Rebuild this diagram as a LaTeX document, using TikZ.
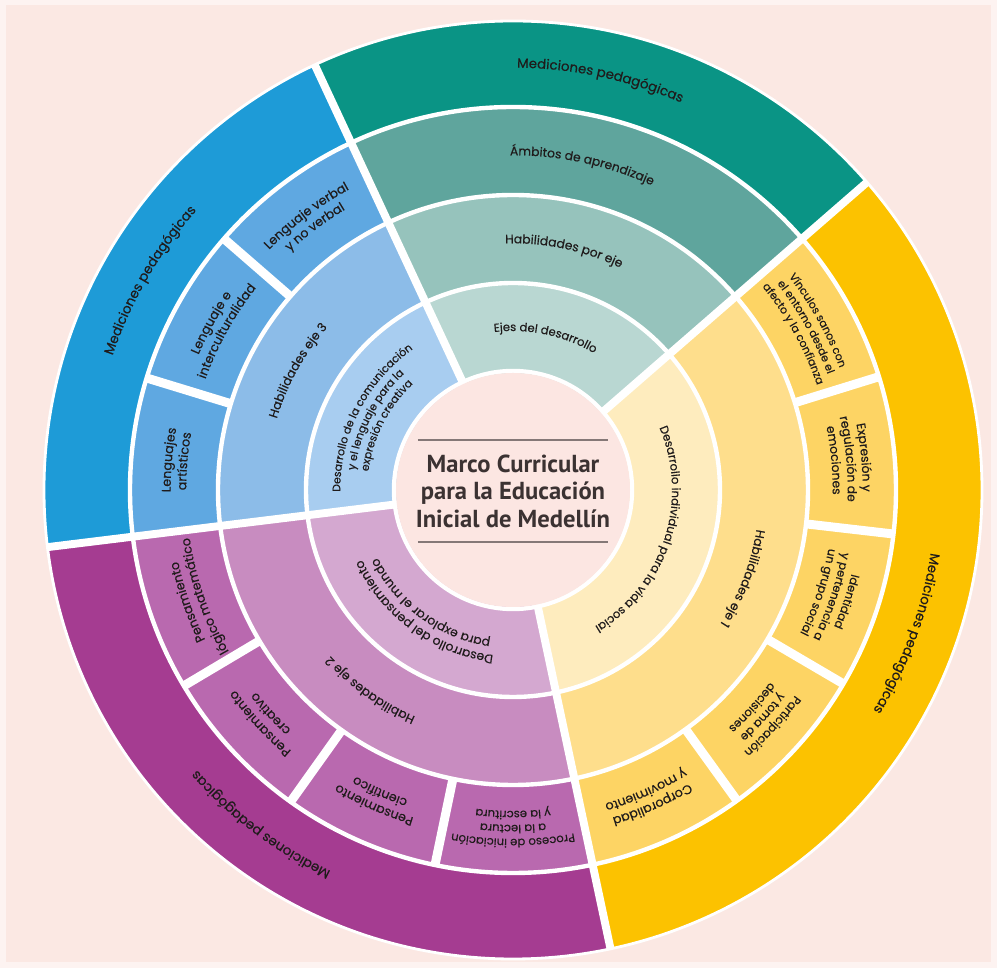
\documentclass[tikz,border=0pt]{standalone}
\usepackage{fontspec}
\setmainfont{Poppins}
\newfontfamily\lblfont{Poppins}[FakeBold=0.35]
\newfontfamily\titlefont{PT Sans}
\usepackage{xcolor}
\usetikzlibrary{decorations.text}
\definecolor{bgframe}{HTML}{FDF3F1}
\definecolor{bgpink}{HTML}{FBE8E3}
\definecolor{corepink}{HTML}{FCE6E2}
\definecolor{ink}{HTML}{1F1B1B}
\definecolor{titleink}{HTML}{3B3232}
\definecolor{rulegray}{HTML}{857877}
\definecolor{tealA}{HTML}{B9D7D2}
\definecolor{tealB}{HTML}{96C3BC}
\definecolor{tealC}{HTML}{5FA59D}
\definecolor{tealD}{HTML}{0A9485}
\definecolor{blueA}{HTML}{A8CDF0}
\definecolor{blueB}{HTML}{8CBCE8}
\definecolor{blueC}{HTML}{5FA8E1}
\definecolor{blueD}{HTML}{1E9BD7}
\definecolor{plumA}{HTML}{D4A8D0}
\definecolor{plumB}{HTML}{C88CC0}
\definecolor{plumC}{HTML}{B969AF}
\definecolor{plumD}{HTML}{A53C91}
\definecolor{goldA}{HTML}{FEECBE}
\definecolor{goldB}{HTML}{FEDE8C}
\definecolor{goldC}{HTML}{FDD464}
\definecolor{goldD}{HTML}{FCC200}
\newcommand\lblout{\lblfont\fontsize{7.6}{9}\selectfont}
\newcommand\lblmid{\lblfont\fontsize{7}{8}\selectfont}
\newcommand\lblsub{\lblfont\fontsize{7.2}{8}\selectfont}
\newcommand\lblone{\lblfont\fontsize{6.6}{8}\selectfont}
\newcommand\lbltiny{\lblfont\fontsize{6.2}{7}\selectfont}

\begin{document}
\begin{tikzpicture}[scale=0.02,
    ringgap/.style={draw=white, line width=2.5pt},
    sectorgap/.style={draw=white, line width=4.5pt},
    subgap/.style={draw=white, line width=5.1pt},
    lbl/.style 2 args={decorate, decoration={text along path, text align=center, text color=ink, text={|#1|#2}}},
    titletext/.style={font=\titlefont\bfseries\fontsize{14}{15.6}\selectfont, text=titleink, align=center},
]
    % Background
    \useasboundingbox (-513,-478) rectangle (484,490);
    \fill[bgframe] (-513,-478) rectangle (484,490);
    \fill[bgpink] (-507,-472) rectangle (478,485);

    % Teal sector
    \fill[tealD] (0,0) -- (41:469) arc[start angle=41, end angle=115, radius=469] -- cycle;
    \fill[tealC] (0,0) -- (41:383) arc[start angle=41, end angle=115, radius=383] -- cycle;
    \fill[tealB] (0,0) -- (41:295) arc[start angle=41, end angle=115, radius=295] -- cycle;
    \fill[tealA] (0,0) -- (41:207) arc[start angle=41, end angle=115, radius=207] -- cycle;

    % Blue sector
    \fill[blueD] (0,0) -- (115:469) arc[start angle=115, end angle=187, radius=469] -- cycle;
    \fill[blueC] (0,0) -- (115:383) arc[start angle=115, end angle=187, radius=383] -- cycle;
    \fill[blueB] (0,0) -- (115:295) arc[start angle=115, end angle=187, radius=295] -- cycle;
    \fill[blueA] (0,0) -- (115:207) arc[start angle=115, end angle=187, radius=207] -- cycle;

    % Plum sector
    \fill[plumD] (0,0) -- (187:469) arc[start angle=187, end angle=282, radius=469] -- cycle;
    \fill[plumC] (0,0) -- (187:383) arc[start angle=187, end angle=282, radius=383] -- cycle;
    \fill[plumB] (0,0) -- (187:295) arc[start angle=187, end angle=282, radius=295] -- cycle;
    \fill[plumA] (0,0) -- (187:207) arc[start angle=187, end angle=282, radius=207] -- cycle;

    % Gold sector
    \fill[goldD] (0,0) -- (-78:469) arc[start angle=-78, end angle=41, radius=469] -- cycle;
    \fill[goldC] (0,0) -- (-78:383) arc[start angle=-78, end angle=41, radius=383] -- cycle;
    \fill[goldB] (0,0) -- (-78:295) arc[start angle=-78, end angle=41, radius=295] -- cycle;
    \fill[goldA] (0,0) -- (-78:207) arc[start angle=-78, end angle=41, radius=207] -- cycle;

    % Gaps
    \draw[white, line width=1.6pt] (0,0) circle[radius=469];
    \draw[ringgap] (0,0) circle[radius=383];
    \draw[ringgap] (0,0) circle[radius=295];
    \draw[ringgap] (0,0) circle[radius=207];
    \draw[ringgap] (0,0) circle[radius=119];
    \draw[sectorgap] (0,0) -- (41:469);
    \draw[sectorgap] (0,0) -- (115:469);
    \draw[sectorgap] (0,0) -- (187:469);
    \draw[sectorgap] (0,0) -- (282:469);
    \draw[subgap] (163:295) -- (163:383);
    \draw[subgap] (139:295) -- (139:383);
    \draw[subgap] (210.75:295) -- (210.75:383);
    \draw[subgap] (234.5:295) -- (234.5:383);
    \draw[subgap] (258.25:295) -- (258.25:383);
    \draw[subgap] (17.2:295) -- (17.2:383);
    \draw[subgap] (-6.6:295) -- (-6.6:383);
    \draw[subgap] (-30.4:295) -- (-30.4:383);
    \draw[subgap] (-54.2:295) -- (-54.2:383);

    % Core
    \fill[corepink] (0,0) circle[radius=117];
    \draw[rulegray, line width=0.8pt] (-95,50) -- (95,50);
    \draw[rulegray, line width=0.8pt] (-95,-52) -- (95,-52);
    \node[titletext] (title) at (0,-1) {Marco Curricular\\para la Educación\\Inicial de Medellín};

    % Teal labels
    \path[lbl={\lblout}{Mediciones pedagógicas}] (118:422.3) arc[start angle=118, end angle=38, radius=422.3];
    \path[lbl={\lblmid}{Ámbitos de aprendizaje}] (118:334.7) arc[start angle=118, end angle=38, radius=334.7];
    \path[lbl={\lblmid}{Habilidades por eje}] (118:246.7) arc[start angle=118, end angle=38, radius=246.7];
    \path[lbl={\lblone}{Ejes del desarrollo}] (118:159) arc[start angle=118, end angle=38, radius=159];

    % Blue labels
    \path[lbl={\lblout}{Mediciones pedagógicas}] (190:422.3) arc[start angle=190, end angle=110, radius=422.3];
    \path[lbl={\lblmid}{Habilidades eje 3}] (191:246.7) arc[start angle=191, end angle=111, radius=246.7];
    \path[lbl={\lbltiny}{Desarrollo de la comunicación}] (198:172.7) arc[start angle=198, end angle=108, radius=172.7];
    \path[lbl={\lbltiny}{y el lenguaje para la}] (198:159.2) arc[start angle=198, end angle=108, radius=159.2];
    \path[lbl={\lbltiny}{expresión creativa}] (198:145.7) arc[start angle=198, end angle=108, radius=145.7];
    \path[lbl={\lblsub}{Lenguajes}] (195:342.3) arc[start angle=195, end angle=155, radius=342.3];
    \path[lbl={\lblsub}{artísticos}] (195:326.8) arc[start angle=195, end angle=155, radius=326.8];
    \path[lbl={\lblsub}{Lenguaje e}] (171:342.3) arc[start angle=171, end angle=131, radius=342.3];
    \path[lbl={\lblsub}{interculturalidad}] (171:326.8) arc[start angle=171, end angle=131, radius=326.8];
    \path[lbl={\lblsub}{Lenguaje verbal}] (147:342.3) arc[start angle=147, end angle=107, radius=342.3];
    \path[lbl={\lblsub}{y no verbal}] (147:326.8) arc[start angle=147, end angle=107, radius=326.8];

    % Plum labels
    \path[lbl={\lblout}{Mediciones pedagógicas}] (273:422.3) arc[start angle=273, end angle=193, radius=422.3];
    \path[lbl={\lblmid}{Habilidades eje 2}] (274.5:246.7) arc[start angle=274.5, end angle=194.5, radius=246.7];
    \path[lbl={\lblmid}{Desarrollo del pensamiento}] (279:166.2) arc[start angle=279, end angle=189, radius=166.2];
    \path[lbl={\lblmid}{para explorar el mundo}] (279:151.2) arc[start angle=279, end angle=189, radius=151.2];
    \path[lbl={\lblsub}{Pensamiento}] (219:342.3) arc[start angle=219, end angle=179, radius=342.3];
    \path[lbl={\lblsub}{lógico matemático}] (219:326.8) arc[start angle=219, end angle=179, radius=326.8];
    \path[lbl={\lblsub}{Pensamiento}] (242.7:342.3) arc[start angle=242.7, end angle=202.7, radius=342.3];
    \path[lbl={\lblsub}{creativo}] (242.7:326.8) arc[start angle=242.7, end angle=202.7, radius=326.8];
    \path[lbl={\lblsub}{Pensamiento}] (266.2:342.3) arc[start angle=266.2, end angle=226.2, radius=342.3];
    \path[lbl={\lblsub}{científico}] (266.2:326.8) arc[start angle=266.2, end angle=226.2, radius=326.8];
    \path[lbl={\lblone}{Proceso de iniciación}] (290:348.9) arc[start angle=290, end angle=250, radius=348.9];
    \path[lbl={\lblone}{a la lectura}] (290:334.9) arc[start angle=290, end angle=250, radius=334.9];
    \path[lbl={\lblone}{y la escritura}] (290:320.9) arc[start angle=290, end angle=250, radius=320.9];

    % Gold labels
    \path[lbl={\lblout}{Mediciones pedagógicas}] (20:422.3) arc[start angle=20, end angle=-60, radius=422.3];
    \path[lbl={\lblmid}{Habilidades eje 1}] (19:246.7) arc[start angle=19, end angle=-61, radius=246.7];
    \path[lbl={\lblone}{Desarrollo individual para la vida social}] (42:159) arc[start angle=42, end angle=-78, radius=159];
    \path[lbl={\lbltiny}{Vínculos sanos con}] (49.1:348.7) arc[start angle=49.1, end angle=9.1, radius=348.7];
    \path[lbl={\lbltiny}{el entorno desde el}] (49.1:335.2) arc[start angle=49.1, end angle=9.1, radius=335.2];
    \path[lbl={\lbltiny}{afecto y la confianza}] (49.1:321.7) arc[start angle=49.1, end angle=9.1, radius=321.7];
    \path[lbl={\lblmid}{Expresión y}] (25.3:349.7) arc[start angle=25.3, end angle=-14.7, radius=349.7];
    \path[lbl={\lblmid}{regulación de}] (25.3:334.7) arc[start angle=25.3, end angle=-14.7, radius=334.7];
    \path[lbl={\lblmid}{emociones}] (25.3:319.7) arc[start angle=25.3, end angle=-14.7, radius=319.7];
    \path[lbl={\lblone}{Identidad}] (1.5:348.9) arc[start angle=1.5, end angle=-38.5, radius=348.9];
    \path[lbl={\lblone}{y pertenencia a}] (1.5:334.9) arc[start angle=1.5, end angle=-38.5, radius=334.9];
    \path[lbl={\lblone}{un grupo social}] (1.5:320.9) arc[start angle=1.5, end angle=-38.5, radius=320.9];
    \path[lbl={\lblone}{Participación}] (-22.3:348.9) arc[start angle=-22.3, end angle=-62.3, radius=348.9];
    \path[lbl={\lblone}{y toma de}] (-22.3:334.9) arc[start angle=-22.3, end angle=-62.3, radius=334.9];
    \path[lbl={\lblone}{decisiones}] (-22.3:320.9) arc[start angle=-22.3, end angle=-62.3, radius=320.9];
    \path[lbl={\lblsub}{Corporalidad}] (-46.1:342.3) arc[start angle=-46.1, end angle=-86.1, radius=342.3];
    \path[lbl={\lblsub}{y movimiento}] (-46.1:326.8) arc[start angle=-46.1, end angle=-86.1, radius=326.8];
\end{tikzpicture}
\end{document}
